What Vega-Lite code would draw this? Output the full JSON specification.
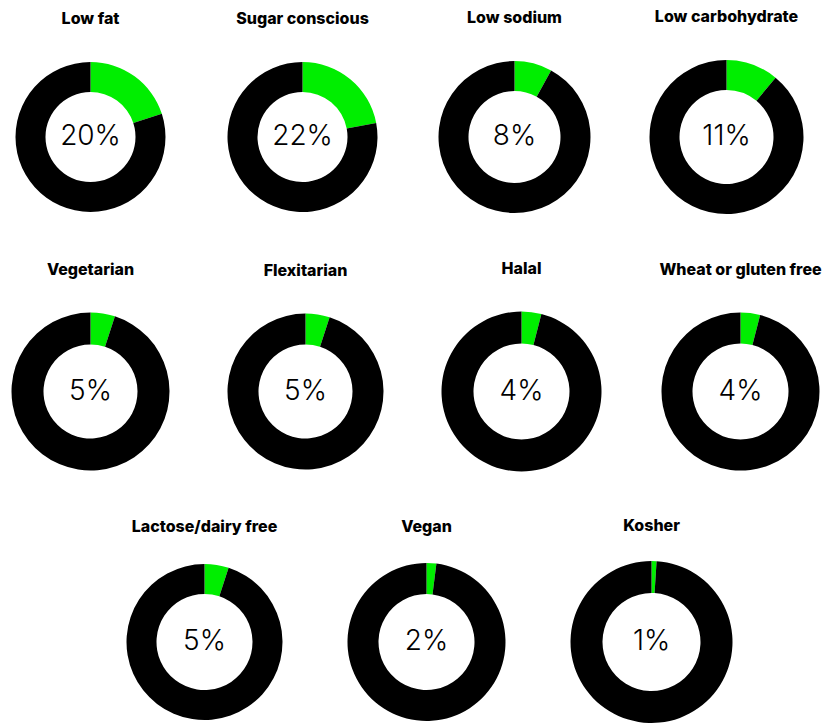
{
  "$schema": "https://vega.github.io/schema/vega-lite/v6.json",
  "padding": {"left": 11, "top": 9, "right": 0, "bottom": 0},
  "background": "white",
  "data": {"values": [
    {"diet": "Low fat", "part": "yes", "share": 0.20},
    {"diet": "Low fat", "part": "no", "share": 0.80},
    {"diet": "Sugar conscious", "part": "yes", "share": 0.22},
    {"diet": "Sugar conscious", "part": "no", "share": 0.78},
    {"diet": "Low sodium", "part": "yes", "share": 0.08},
    {"diet": "Low sodium", "part": "no", "share": 0.92},
    {"diet": "Low carbohydrate", "part": "yes", "share": 0.11},
    {"diet": "Low carbohydrate", "part": "no", "share": 0.89},
    {"diet": "Vegetarian", "part": "yes", "share": 0.05},
    {"diet": "Vegetarian", "part": "no", "share": 0.95},
    {"diet": "Flexitarian", "part": "yes", "share": 0.05},
    {"diet": "Flexitarian", "part": "no", "share": 0.95},
    {"diet": "Halal", "part": "yes", "share": 0.04},
    {"diet": "Halal", "part": "no", "share": 0.96},
    {"diet": "Wheat or gluten free", "part": "yes", "share": 0.04},
    {"diet": "Wheat or gluten free", "part": "no", "share": 0.96},
    {"diet": "Lactose/dairy free", "part": "yes", "share": 0.05},
    {"diet": "Lactose/dairy free", "part": "no", "share": 0.95},
    {"diet": "Vegan", "part": "yes", "share": 0.02},
    {"diet": "Vegan", "part": "no", "share": 0.98},
    {"diet": "Kosher", "part": "yes", "share": 0.01},
    {"diet": "Kosher", "part": "no", "share": 0.99}
  ]},
  "vconcat": [
    {"hconcat": [
      {"title": "Low fat", "width": 155, "height": 150, "transform": [{"filter": "datum.diet == 'Low fat'"}],
       "layer": [
        {"mark": {"type": "arc", "innerRadius": 45, "outerRadius": 75}, "encoding": {"theta": {"field": "share", "type": "quantitative", "stack": true}, "color": {"field": "part", "type": "nominal", "scale": {"domain": ["yes", "no"], "range": ["#00ee00", "#000000"]}, "legend": null}, "order": {"field": "part", "sort": "descending"}}},
        {"transform": [{"filter": "datum.part == 'yes'"}], "mark": {"type": "text", "fontSize": 28, "font": "Inter", "fontWeight": 300, "color": "#000"}, "encoding": {"text": {"field": "share", "type": "quantitative", "format": ".0%"}}}
       ]},
      {"title": "Sugar conscious", "width": 155, "height": 150, "transform": [{"filter": "datum.diet == 'Sugar conscious'"}],
       "layer": [
        {"mark": {"type": "arc", "innerRadius": 45, "outerRadius": 75}, "encoding": {"theta": {"field": "share", "type": "quantitative", "stack": true}, "color": {"field": "part", "type": "nominal", "scale": {"domain": ["yes", "no"], "range": ["#00ee00", "#000000"]}, "legend": null}, "order": {"field": "part", "sort": "descending"}}},
        {"transform": [{"filter": "datum.part == 'yes'"}], "mark": {"type": "text", "fontSize": 28, "font": "Inter", "fontWeight": 300, "color": "#000"}, "encoding": {"text": {"field": "share", "type": "quantitative", "format": ".0%"}}}
       ]},
      {"title": "Low sodium", "width": 155, "height": 150, "transform": [{"filter": "datum.diet == 'Low sodium'"}],
       "layer": [
        {"mark": {"type": "arc", "innerRadius": 46, "outerRadius": 76}, "encoding": {"theta": {"field": "share", "type": "quantitative", "stack": true}, "color": {"field": "part", "type": "nominal", "scale": {"domain": ["yes", "no"], "range": ["#00ee00", "#000000"]}, "legend": null}, "order": {"field": "part", "sort": "descending"}}},
        {"transform": [{"filter": "datum.part == 'yes'"}], "mark": {"type": "text", "fontSize": 28, "font": "Inter", "fontWeight": 300, "color": "#000"}, "encoding": {"text": {"field": "share", "type": "quantitative", "format": ".0%"}}}
       ]},
      {"title": "Low carbohydrate", "width": 155, "height": 150, "transform": [{"filter": "datum.diet == 'Low carbohydrate'"}],
       "layer": [
        {"mark": {"type": "arc", "innerRadius": 47, "outerRadius": 77}, "encoding": {"theta": {"field": "share", "type": "quantitative", "stack": true}, "color": {"field": "part", "type": "nominal", "scale": {"domain": ["yes", "no"], "range": ["#00ee00", "#000000"]}, "legend": null}, "order": {"field": "part", "sort": "descending"}}},
        {"transform": [{"filter": "datum.part == 'yes'"}], "mark": {"type": "text", "fontSize": 28, "font": "Inter", "fontWeight": 300, "color": "#000"}, "encoding": {"text": {"field": "share", "type": "quantitative", "format": ".0%"}}}
       ]}
    ]},
    {"hconcat": [
      {"title": "Vegetarian", "width": 155, "height": 151, "transform": [{"filter": "datum.diet == 'Vegetarian'"}],
       "layer": [
        {"mark": {"type": "arc", "innerRadius": 47, "outerRadius": 79}, "encoding": {"theta": {"field": "share", "type": "quantitative", "stack": true}, "color": {"field": "part", "type": "nominal", "scale": {"domain": ["yes", "no"], "range": ["#00ee00", "#000000"]}, "legend": null}, "order": {"field": "part", "sort": "descending"}}},
        {"transform": [{"filter": "datum.part == 'yes'"}], "mark": {"type": "text", "fontSize": 28, "font": "Inter", "fontWeight": 300, "color": "#000"}, "encoding": {"text": {"field": "share", "type": "quantitative", "format": ".0%"}}}
       ]},
      {"title": "Flexitarian", "width": 155, "height": 151, "transform": [{"filter": "datum.diet == 'Flexitarian'"}],
       "layer": [
        {"mark": {"type": "arc", "innerRadius": 47, "outerRadius": 78}, "encoding": {"theta": {"field": "share", "type": "quantitative", "stack": true}, "color": {"field": "part", "type": "nominal", "scale": {"domain": ["yes", "no"], "range": ["#00ee00", "#000000"]}, "legend": null}, "order": {"field": "part", "sort": "descending"}}},
        {"transform": [{"filter": "datum.part == 'yes'"}], "mark": {"type": "text", "fontSize": 28, "font": "Inter", "fontWeight": 300, "color": "#000"}, "encoding": {"text": {"field": "share", "type": "quantitative", "format": ".0%"}}}
       ]},
      {"title": "Halal", "width": 155, "height": 151, "transform": [{"filter": "datum.diet == 'Halal'"}],
       "layer": [
        {"mark": {"type": "arc", "innerRadius": 48, "outerRadius": 80}, "encoding": {"theta": {"field": "share", "type": "quantitative", "stack": true}, "color": {"field": "part", "type": "nominal", "scale": {"domain": ["yes", "no"], "range": ["#00ee00", "#000000"]}, "legend": null}, "order": {"field": "part", "sort": "descending"}}},
        {"transform": [{"filter": "datum.part == 'yes'"}], "mark": {"type": "text", "fontSize": 28, "font": "Inter", "fontWeight": 300, "color": "#000"}, "encoding": {"text": {"field": "share", "type": "quantitative", "format": ".0%"}}}
       ]},
      {"title": "Wheat or gluten free", "width": 155, "height": 151, "transform": [{"filter": "datum.diet == 'Wheat or gluten free'"}],
       "layer": [
        {"mark": {"type": "arc", "innerRadius": 48, "outerRadius": 79}, "encoding": {"theta": {"field": "share", "type": "quantitative", "stack": true}, "color": {"field": "part", "type": "nominal", "scale": {"domain": ["yes", "no"], "range": ["#00ee00", "#000000"]}, "legend": null}, "order": {"field": "part", "sort": "descending"}}},
        {"transform": [{"filter": "datum.part == 'yes'"}], "mark": {"type": "text", "fontSize": 28, "font": "Inter", "fontWeight": 300, "color": "#000"}, "encoding": {"text": {"field": "share", "type": "quantitative", "format": ".0%"}}}
       ]}
    ]},
    {"spacing": 64, "hconcat": [
      {"width": 49, "height": 160, "data": {"values": []}, "mark": "point"},
      {"title": {"text": "Lactose/dairy free", "offset": 27}, "width": 155, "height": 160, "transform": [{"filter": "datum.diet == 'Lactose/dairy free'"}],
       "layer": [
        {"mark": {"type": "arc", "innerRadius": 48, "outerRadius": 78}, "encoding": {"theta": {"field": "share", "type": "quantitative", "stack": true}, "color": {"field": "part", "type": "nominal", "scale": {"domain": ["yes", "no"], "range": ["#00ee00", "#000000"]}, "legend": null}, "order": {"field": "part", "sort": "descending"}}},
        {"transform": [{"filter": "datum.part == 'yes'"}], "mark": {"type": "text", "fontSize": 28, "font": "Inter", "fontWeight": 300, "color": "#000"}, "encoding": {"text": {"field": "share", "type": "quantitative", "format": ".0%"}}}
       ]},
      {"title": {"text": "Vegan", "offset": 27}, "width": 155, "height": 160, "transform": [{"filter": "datum.diet == 'Vegan'"}],
       "layer": [
        {"mark": {"type": "arc", "innerRadius": 48, "outerRadius": 79}, "encoding": {"theta": {"field": "share", "type": "quantitative", "stack": true}, "color": {"field": "part", "type": "nominal", "scale": {"domain": ["yes", "no"], "range": ["#00ee00", "#000000"]}, "legend": null}, "order": {"field": "part", "sort": "descending"}}},
        {"transform": [{"filter": "datum.part == 'yes'"}], "mark": {"type": "text", "fontSize": 28, "font": "Inter", "fontWeight": 300, "color": "#000"}, "encoding": {"text": {"field": "share", "type": "quantitative", "format": ".0%"}}}
       ]},
      {"title": {"text": "Kosher", "offset": 27}, "width": 155, "height": 160, "transform": [{"filter": "datum.diet == 'Kosher'"}],
       "layer": [
        {"mark": {"type": "arc", "innerRadius": 49, "outerRadius": 81}, "encoding": {"theta": {"field": "share", "type": "quantitative", "stack": true}, "color": {"field": "part", "type": "nominal", "scale": {"domain": ["yes", "no"], "range": ["#00ee00", "#000000"]}, "legend": null}, "order": {"field": "part", "sort": "descending"}}},
        {"transform": [{"filter": "datum.part == 'yes'"}], "mark": {"type": "text", "fontSize": 28, "font": "Inter", "fontWeight": 300, "color": "#000"}, "encoding": {"text": {"field": "share", "type": "quantitative", "format": ".0%"}}}
       ]}
    ]}
  ],
  "spacing": 46,
  "config": {
    "concat": {"spacing": 57},
    "view": {"stroke": null},
    "title": {"font": "Inter", "fontSize": 16, "fontWeight": 800, "color": "#000", "anchor": "middle", "offset": 35},
    "text": {"font": "Inter"}
  }
}
